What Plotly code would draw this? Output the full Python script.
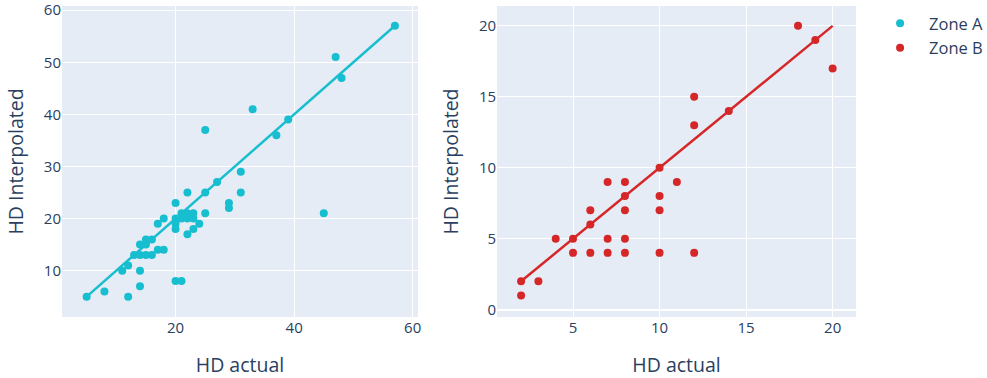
import plotly.graph_objects as go
from plotly.subplots import make_subplots

# Zone A data (HD actual, HD interpolated)
zone_a_actual = [5, 8, 12, 14, 11, 12, 14, 20, 21, 13, 14, 15, 16, 17, 18, 14, 15, 15, 16,
                 17, 18, 20, 22, 25, 20, 20, 20, 21, 21, 22, 22, 23, 23, 24, 23, 22, 25,
                 29, 29, 31, 31, 27, 25, 33, 37, 39, 47, 48, 57, 45]
zone_a_interp = [5, 6, 5, 7, 10, 11, 10, 8, 8, 13, 13, 13, 13, 14, 14, 15, 15, 16, 16,
                 19, 20, 23, 25, 25, 20, 19, 18, 20, 21, 21, 20, 21, 20, 19, 18, 17, 21,
                 23, 22, 29, 25, 27, 37, 41, 36, 39, 51, 47, 57, 21]

# Zone B data
zone_b_actual = [2, 2, 3, 4, 5, 5, 6, 6, 6, 7, 7, 7, 8, 8, 8, 8, 8, 10, 10, 10, 10, 11, 12,
                 12, 12, 14, 18, 19, 20]
zone_b_interp = [2, 1, 2, 5, 5, 4, 4, 6, 7, 9, 5, 4, 9, 8, 7, 5, 4, 10, 8, 7, 4, 9, 4,
                 15, 13, 14, 20, 19, 17]

color_a = "#17becf"
color_b = "#d62728"

fig = make_subplots(rows=1, cols=2, horizontal_spacing=0.1)

lo_a, hi_a = min(zone_a_actual), max(zone_a_actual)
lo_b, hi_b = min(zone_b_actual), max(zone_b_actual)

fig.add_trace(go.Scatter(x=zone_a_actual, y=zone_a_interp, mode="markers", name="Zone A",
                         marker=dict(color=color_a, size=8)), row=1, col=1)
fig.add_trace(go.Scatter(x=[lo_a, hi_a], y=[lo_a, hi_a], mode="lines", showlegend=False,
                         line=dict(color=color_a, width=2.5)), row=1, col=1)
fig.add_trace(go.Scatter(x=zone_b_actual, y=zone_b_interp, mode="markers", name="Zone B",
                         marker=dict(color=color_b, size=8)), row=1, col=2)
fig.add_trace(go.Scatter(x=[lo_b, hi_b], y=[lo_b, hi_b], mode="lines", showlegend=False,
                         line=dict(color=color_b, width=2.5)), row=1, col=2)

tick_font = dict(size=15)
title_font = dict(size=19.5)

fig.update_xaxes(title_text="HD actual", title_font=title_font, tickfont=tick_font,
                 title_standoff=22, automargin=False, ticklabeloverflow="allow")
fig.update_yaxes(title_text="HD Interpolated", title_font=title_font, tickfont=tick_font,
                 automargin=False, ticklabeloverflow="allow")

fig.update_xaxes(range=[0.84, 60.9], domain=[0, 0.4484], row=1, col=1)
fig.update_yaxes(range=[1.1, 60.8], row=1, col=1)
fig.update_xaxes(range=[0.61, 21.35], domain=[0.5479, 1], row=1, col=2)
fig.update_yaxes(range=[-0.52, 21.4], row=1, col=2)

fig.update_layout(
    width=987, height=378,
    margin=dict(l=62, r=131, t=6, b=61, autoexpand=False),
    template="plotly",
    legend=dict(x=1.019, y=1.0, itemwidth=48, font=dict(size=16.5)),
)

fig.write_html("out.html", config={"displayModeBar": False},
               post_script="document.body.style.margin='0';")
